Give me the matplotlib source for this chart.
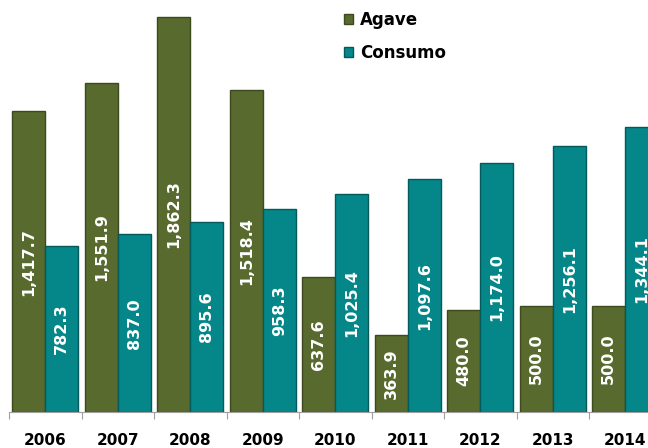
import numpy as np
import matplotlib
matplotlib.use("Agg")
from matplotlib import pyplot as plt

years = ["2006", "2007", "2008", "2009", "2010", "2011", "2012", "2013", "2014"]
agave = [1417.7, 1551.9, 1862.3, 1518.4, 637.6, 363.9, 480.0, 500.0, 500.0]
consumo = [782.3, 837.0, 895.6, 958.3, 1025.4, 1097.6, 1174.0, 1256.1, 1344.1]

agave_color = "#586a2e"
consumo_color = "#05878a"

fig = plt.figure(figsize=(6.48, 4.48), dpi=100)
ax = fig.add_axes([9 / 648, 36 / 448, 1 - 9 / 648, 412 / 448])

x = np.arange(len(years))
w = 0.455
b1 = ax.bar(x - w / 2, agave, w, color=agave_color, edgecolor="#3c4a1e", linewidth=1, label="Agave")
b2 = ax.bar(x + w / 2, consumo, w, color=consumo_color, edgecolor="#03595b", linewidth=1, label="Consumo")

for bars, vals in [(b1, agave), (b2, consumo)]:
    for r, v in zip(bars, vals):
        ax.text(r.get_x() + r.get_width() / 2, v / 2, f"{v:,.1f}", rotation=90,
                ha="center", va="center", color="white", fontsize=11.5, fontweight="bold")

for s in ["top", "right", "left"]:
    ax.spines[s].set_visible(False)
ax.spines["bottom"].set_color("#a0a0a0")
ax.set_yticks([])
ax.set_xticks(np.arange(len(years) + 1) - 0.5)
ax.set_xticklabels([])
ax.tick_params(axis="x", length=5, color="#a0a0a0")
ax.set_xlim(-0.5, -0.5 + 639 / 72.5)
ax.set_ylim(0, 1942)

for i, yr in enumerate(years):
    ax.text(i, -28 / 412, yr, ha="center", va="center", fontsize=11, fontweight="bold",
            color="black", transform=ax.get_xaxis_transform(), clip_on=False)

ax.legend(loc="upper left", bbox_to_anchor=(320 / 639, 1.01), frameon=False,
          prop={"weight": "bold", "size": 12}, handlelength=0.55,
          handleheight=0.55, labelspacing=0.9, handletextpad=0.4)

fig.savefig("out.png", dpi=100)
